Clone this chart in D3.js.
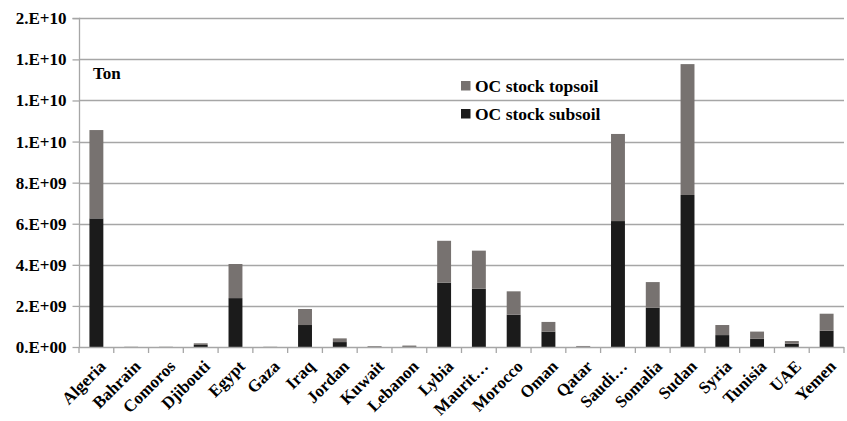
<!DOCTYPE html>
<html>
<head>
<meta charset="utf-8">
<script src="https://cdn.jsdelivr.net/npm/d3@7"></script>
<style>
  html, body { margin: 0; padding: 0; background: #fff; }
  svg text { font-family: "Liberation Serif", "Tinos", "Times New Roman", "DejaVu Serif", serif; font-weight: bold; fill: #000; }
</style>
</head>
<body>
<svg id="chart" width="847" height="421"></svg>
<script>
const categories = ["Algeria","Bahrain","Comoros","Djibouti","Egypt","Gaza","Iraq","Jordan","Kuwait","Lebanon","Lybia","Mauritania","Morocco","Oman","Qatar","Saudi Arabia","Somalia","Sudan","Syria","Tunisia","UAE","Yemen"];
const categoryLabels = ["Algeria","Bahrain","Comoros","Djibouti","Egypt","Gaza","Iraq","Jordan","Kuwait","Lebanon","Lybia","Maurit…","Morocco","Oman","Qatar","Saudi…","Somalia","Sudan","Syria","Tunisia","UAE","Yemen"];
const subsoil = [6.26e9, 0.005e9, 0.005e9, 0.10e9, 2.38e9, 0.005e9, 1.07e9, 0.24e9, 0.02e9, 0.03e9, 3.13e9, 2.84e9, 1.57e9, 0.75e9, 0.02e9, 6.13e9, 1.91e9, 7.40e9, 0.58e9, 0.40e9, 0.16e9, 0.79e9];
const topsoil = [4.30e9, 0.005e9, 0.005e9, 0.08e9, 1.66e9, 0.005e9, 0.78e9, 0.18e9, 0.02e9, 0.04e9, 2.04e9, 1.85e9, 1.14e9, 0.47e9, 0.03e9, 4.24e9, 1.25e9, 6.37e9, 0.49e9, 0.35e9, 0.13e9, 0.83e9];
const tickValues = [0, 2e9, 4e9, 6e9, 8e9, 10e9, 12e9, 14e9, 16e9];
const tickLabels = ["0.E+00","2.E+09","4.E+09","6.E+09","8.E+09","1.E+10","1.E+10","1.E+10","2.E+10"];
const seriesNames = ["OC stock topsoil", "OC stock subsoil"];
const unitLabel = "Ton";

const colors = { topsoil: "#777270", subsoil: "#1b1b1b" };
const gridColor = "#a6a6a6";
const FONT = '"Liberation Serif", "Tinos", "Times New Roman", "DejaVu Serif", serif';

const svg = d3.select("#chart");
const mLeft = 79, mRight = 844, mTop = 18.3, mBottom = 347;

const x = d3.scaleBand().domain(categories).range([mLeft, mRight]).paddingInner(0.6).paddingOuter(0.3);
const y = d3.scaleLinear().domain([0, 16e9]).range([mBottom, mTop]);

// gridlines
svg.append("g").selectAll("line").data(tickValues.filter(d => d > 0)).join("line")
  .attr("x1", mLeft).attr("x2", mRight)
  .attr("y1", d => Math.round(y(d)) + 0.5).attr("y2", d => Math.round(y(d)) + 0.5)
  .attr("stroke", gridColor).attr("stroke-width", 1.3);

// stacked data
const data = categories.map((c, i) => ({ cat: c, subsoil: subsoil[i], topsoil: topsoil[i] }));
const stack = d3.stack().keys(["subsoil", "topsoil"]);
const layers = stack(data);

svg.append("g").selectAll("g").data(layers).join("g")
  .attr("fill", d => colors[d.key])
  .selectAll("rect").data(d => d).join("rect")
  .attr("x", d => x(d.data.cat))
  .attr("width", x.bandwidth())
  .attr("y", d => y(d[1]))
  .attr("height", d => Math.max(0, y(d[0]) - y(d[1])));

// y axis
const yAxis = d3.axisLeft(y).tickValues(tickValues).tickSize(7).tickFormat((d, i) => tickLabels[i]).tickPadding(6);
const gy = svg.append("g").attr("transform", `translate(${mLeft + 0.5},0)`).call(yAxis);
gy.attr("font-family", null).attr("font-size", null);
gy.select(".domain").attr("stroke", gridColor).attr("stroke-width", 1.3).attr("d", `M-7,${mTop}H0V${mBottom}`);
gy.selectAll(".tick line").attr("stroke", gridColor).attr("stroke-width", 1.3);
gy.selectAll(".tick text").style("font-size", "17px").style("font-family", FONT).style("font-weight", "bold").attr("fill", "#000");

// x axis
const boundaries = categories.map(c => x(c) - x.step() * x.paddingInner() / 2).concat([mRight]);
const gx = svg.append("g");
gx.append("line").attr("x1", mLeft).attr("x2", mRight).attr("y1", mBottom + 0.5).attr("y2", mBottom + 0.5)
  .attr("stroke", gridColor).attr("stroke-width", 1.3);
gx.selectAll("line.tk").data(boundaries).join("line").attr("class", "tk")
  .attr("x1", d => d).attr("x2", d => d).attr("y1", mBottom).attr("y2", mBottom + 6)
  .attr("stroke", gridColor).attr("stroke-width", 1.3);
gx.selectAll("text").data(categories).join("text")
  .attr("transform", d => `translate(${x(d) + x.bandwidth() / 2 + 2},${mBottom + 12}) rotate(-45)`)
  .attr("text-anchor", "end")
  .attr("dy", "0.7em")
  .style("font-size", "17px")
  .style("font-family", FONT)
  .text((d, i) => categoryLabels[i]);

// unit label
svg.append("text").attr("x", 93).attr("y", 79).style("font-size", "17px").style("font-family", FONT).text(unitLabel);

// legend
const legend = svg.append("g");
const legendItems = [{ name: seriesNames[0], color: colors.topsoil, y: 92 }, { name: seriesNames[1], color: colors.subsoil, y: 120 }];
legendItems.forEach(it => {
  legend.append("rect").attr("x", 461).attr("y", it.y - 11).attr("width", 9.5).attr("height", 9.5).attr("fill", it.color);
  legend.append("text").attr("x", 475).attr("y", it.y).style("font-size", "17.5px").style("font-family", FONT).text(it.name);
});
</script>
</body>
</html>
